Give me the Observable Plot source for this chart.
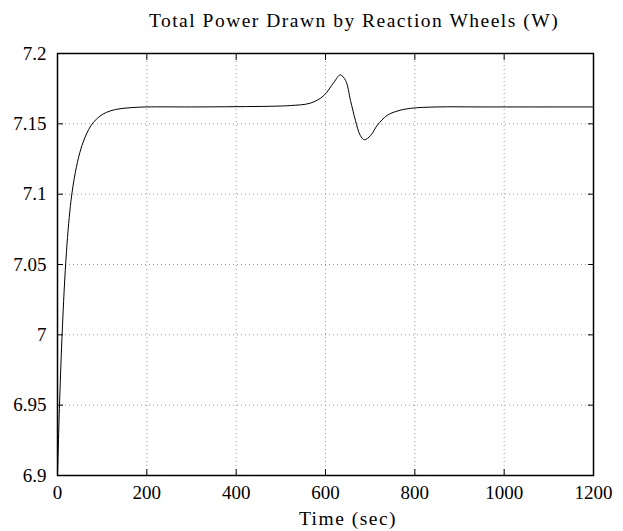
<!DOCTYPE html>
<html>
<head>
<meta charset="utf-8">
<script src="https://cdn.jsdelivr.net/npm/d3@7"></script>
<script src="https://cdn.jsdelivr.net/npm/@observablehq/plot@0.6"></script>
<style>
  html, body { margin: 0; padding: 0; background: #fff; }
  #wrap { position: relative; width: 623px; height: 531px; font-family: "Liberation Serif", serif; }
  #title { position: absolute; left: 0; width: 708px; top: 10.5px; line-height: 1; text-align: center; font-size: 19.5px; letter-spacing: 1.5px; color: #000; white-space: nowrap; }
  #xlabel { position: absolute; left: 0; width: 696px; top: 508.5px; line-height: 1; text-align: center; font-size: 19.5px; letter-spacing: 1.5px; color: #000; white-space: nowrap; }
  #chart { position: absolute; left: 0; top: 0; }
</style>
</head>
<body>
<div id="wrap">
  <div id="chart"></div>
  <div id="title">Total Power Drawn by Reaction Wheels (W)</div>
  <div id="xlabel">Time (sec)</div>
</div>
<script>
const timeSec = [0, 5, 10, 15, 20, 25, 30, 35, 40, 50, 60, 70, 80, 95, 110, 130, 160, 200, 300, 400, 480, 521, 566, 596, 619, 633, 645, 656, 667, 678, 687, 701, 716, 738, 760, 790, 850, 950, 1100, 1200];
const powerW = [6.9, 6.955, 6.998, 7.032, 7.0587, 7.0791, 7.0948, 7.1064, 7.1156, 7.1296, 7.1392, 7.1461, 7.1509, 7.1555, 7.1582, 7.1602, 7.1614, 7.162, 7.162, 7.1622, 7.1625, 7.163, 7.1647, 7.170, 7.1796, 7.1848, 7.1808, 7.1666, 7.1524, 7.1417, 7.1387, 7.1417, 7.149, 7.156, 7.159, 7.161, 7.162, 7.162, 7.162, 7.162];
const xTicks = [0, 200, 400, 600, 800, 1000, 1200];
const yTicks = [6.9, 6.95, 7, 7.05, 7.1, 7.15, 7.2];
const yTickLabels = ["6.9", "6.95", "7", "7.05", "7.1", "7.15", "7.2"];

const data = timeSec.map((t, i) => ({t, p: powerW[i]}));
const yLab = new Map(yTicks.map((v, i) => [v, yTickLabels[i]]));
const grid = {stroke: "#999", strokeDasharray: "1,3", strokeWidth: 1, strokeOpacity: 1};

const plot = Plot.plot({
  width: 623,
  height: 531,
  marginLeft: 57,
  marginRight: 30,
  marginTop: 53,
  marginBottom: 56,
  style: {fontFamily: "Liberation Serif, serif", fontSize: "19px", color: "#000", background: "#fff"},
  x: {domain: [0, 1200], label: null},
  y: {domain: [6.9, 7.2], label: null},
  marks: [
    Plot.ruleX(xTicks.slice(1, -1), {...grid}),
    Plot.ruleY(yTicks.slice(1, -1), {...grid}),
    Plot.axisX({anchor: "bottom", ticks: xTicks, tickSize: 0, tickPadding: 10, tickFormat: d => String(d), label: null}),
    Plot.axisY({anchor: "left", ticks: yTicks, tickSize: 0, tickPadding: 11, tickFormat: d => yLab.get(d), label: null}),
    Plot.axisX({anchor: "bottom", ticks: xTicks, tickSize: -6, text: null, label: null}),
    Plot.axisX({anchor: "top", ticks: xTicks, tickSize: -6, text: null, label: null}),
    Plot.axisY({anchor: "left", ticks: yTicks, tickSize: -6, text: null, label: null}),
    Plot.axisY({anchor: "right", ticks: yTicks, tickSize: -6, text: null, label: null}),
    Plot.line(data, {x: "t", y: "p", stroke: "#000", strokeWidth: 1, curve: "catmull-rom", clip: true}),
    Plot.frame({stroke: "#000", strokeWidth: 1.5})
  ]
});
document.getElementById("chart").appendChild(plot);
</script>
</body>
</html>
